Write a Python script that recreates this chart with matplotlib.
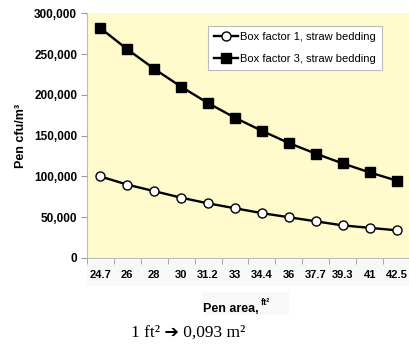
import matplotlib
matplotlib.use("Agg")
import matplotlib.pyplot as plt
from matplotlib.patches import Rectangle
from matplotlib.ticker import FuncFormatter, FixedLocator

# data
pen_area = ["24.7", "26", "28", "30", "31.2", "33", "34.4", "36", "37.7", "39.3", "41", "42.5"]
box_factor_1 = [100000, 90000, 82000, 74000, 67000, 61000, 55000, 50000, 45000, 40000, 37000, 34000]
box_factor_3 = [282000, 256000, 232000, 210000, 190000, 172000, 156000, 141000, 128000, 116000, 105000, 95000]

plt.rcParams["font.family"] = ["Liberation Sans", "DejaVu Sans"]

fig = plt.figure(figsize=(4.1, 3.44), dpi=100)
fig.patch.set_facecolor("white")

# faint grey bands from the slide behind the tick labels and axis title
fig.patches.append(Rectangle((0.212, 0.17), 0.788, 0.075, transform=fig.transFigure,
                             facecolor="#F8F8F8", edgecolor="none", zorder=-5))
fig.patches.append(Rectangle((0.495, 0.085), 0.21, 0.065, transform=fig.transFigure,
                             facecolor="#F8F8F8", edgecolor="none", zorder=-5))

ax = fig.add_axes([0.212, 0.25, 0.788, 0.711])
ax.set_facecolor("#FFFBCC")

x = list(range(len(pen_area)))
ax.plot(x, box_factor_1, color="black", linewidth=1.7, marker="o", markersize=6.5,
        markerfacecolor="white", markeredgecolor="black", markeredgewidth=1.0,
        label="Box factor 1, straw bedding")
ax.plot(x, box_factor_3, color="black", linewidth=1.7, marker="s", markersize=6.5,
        markerfacecolor="black", label="Box factor 3, straw bedding")

ax.set_xlim(-0.5, len(pen_area) - 0.5)
ax.set_ylim(0, 300000)
ax.set_yticks(range(0, 300001, 50000))
ax.yaxis.set_major_formatter(FuncFormatter(lambda v, p: f"{int(v):,}"))
ax.set_xticks(x)
ax.set_xticklabels(pen_area)
ax.xaxis.set_minor_locator(FixedLocator([i - 0.5 for i in range(len(pen_area) + 1)]))
ax.tick_params(axis="x", which="major", length=0, pad=9, labelsize=8)
ax.tick_params(axis="x", which="minor", length=4, color="#999999")
ax.tick_params(axis="y", length=4, color="#999999", labelsize=8.5, pad=3)
for lab in ax.get_xticklabels() + ax.get_yticklabels():
    lab.set_fontweight("bold")

for side in ["top", "right"]:
    ax.spines[side].set_visible(False)
for side in ["left", "bottom"]:
    ax.spines[side].set_color("#BBBBBB")
    ax.spines[side].set_linewidth(0.8)

ax.set_ylabel("Pen cfu/m³", fontsize=9, fontweight="bold", labelpad=5)

leg = ax.legend(loc="upper right", bbox_to_anchor=(0.93, 0.972), fontsize=8,
                frameon=True, fancybox=False, handlelength=2.1, handletextpad=0.2,
                borderpad=0.55, labelspacing=1.05, framealpha=1.0)
leg.get_frame().set_edgecolor("#BBBBBB")
leg.get_frame().set_linewidth(0.8)

fig.text(0.63, 0.093, "Pen area,", fontsize=9, fontweight="bold", ha="right", va="baseline")
fig.text(0.636, 0.113, "ft²", fontsize=6.5, fontweight="bold", ha="left", va="baseline")

fig.text(0.46, 0.02, "1 ft² ➔ 0,093 m²", fontsize=12.5, ha="center", va="baseline",
         family=["Liberation Serif", "DejaVu Sans"])

fig.savefig("out.png", dpi=100)
